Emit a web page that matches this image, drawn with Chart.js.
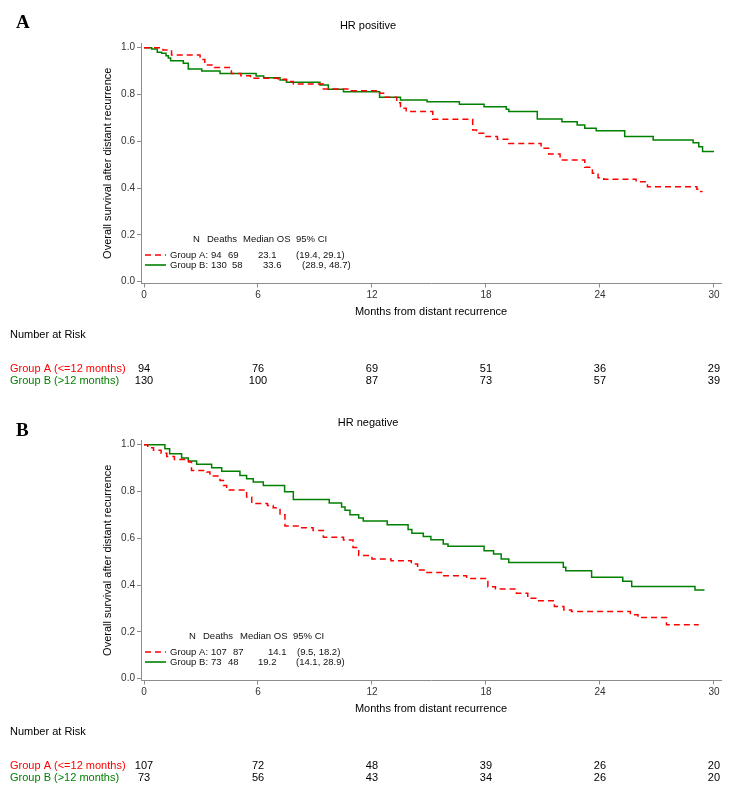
<!DOCTYPE html>
<html lang="en">
<head>
  <meta charset="UTF-8" />
  <title>Overall survival after distant recurrence</title>
  <script src="https://cdn.jsdelivr.net/npm/chart.js"></script>
  <style>
    body { margin: 0; background: #fff; }
    canvas.panel { position: absolute; left: 0; }
  </style>
</head>
<body>
  <canvas id="chartA" class="panel" width="736" height="397" style="top:0"></canvas>
  <canvas id="chartB" class="panel" width="736" height="400" style="top:397px"></canvas>

  <script>
    // shared axis ticks
    const xTicks = [0, 6, 12, 18, 24, 30];
    const yTicks = [0, 0.2, 0.4, 0.6, 0.8, 1.0];
    const groupNames = ['Group A (<=12 months)', 'Group B (>12 months)'];
    const statHeader = ['N', 'Deaths', 'Median OS', '95% CI'];

    // HR positive, Group A (step times in months / survival)
    const posATime = [0, 1.0, 1.45, 2.95, 3.2, 3.7, 4.6, 5.1, 5.6, 7.07, 7.5, 7.86, 9.44, 10.9, 12.4, 12.7, 13.3, 13.5, 13.8, 15.2, 17.3, 17.5, 18.0, 18.6, 19.2, 20.9, 21.3, 21.9, 23.2, 23.6, 23.9, 24.2, 25.9, 26.5, 29.1, 29.3, 29.4];
    const posASurv = [1.0, 0.99, 0.969, 0.95, 0.926, 0.915, 0.89, 0.88, 0.869, 0.865, 0.855, 0.845, 0.823, 0.816, 0.805, 0.788, 0.765, 0.741, 0.727, 0.694, 0.648, 0.634, 0.62, 0.609, 0.591, 0.57, 0.546, 0.52, 0.489, 0.463, 0.444, 0.438, 0.427, 0.406, 0.395, 0.385, 0.385];
    // HR positive, Group B
    const posBTime = [0, 0.4, 0.7, 0.93, 1.16, 1.28, 1.4, 2.07, 2.33, 3.04, 4.0, 5.9, 6.3, 7.16, 7.5, 9.26, 9.7, 10.5, 12.4, 13.5, 14.9, 16.6, 17.9, 19.07, 19.2, 20.7, 22.0, 22.8, 23.2, 23.8, 25.3, 26.8, 28.9, 29.2, 29.4, 30.0];
    const posBSurv = [1.0, 0.994, 0.98, 0.976, 0.966, 0.956, 0.944, 0.933, 0.909, 0.9, 0.89, 0.879, 0.872, 0.862, 0.852, 0.84, 0.822, 0.812, 0.788, 0.776, 0.769, 0.758, 0.748, 0.737, 0.727, 0.695, 0.684, 0.67, 0.656, 0.645, 0.62, 0.606, 0.594, 0.577, 0.556, 0.556];
    const posRiskA = [94, 76, 69, 51, 36, 29];
    const posRiskB = [130, 100, 87, 73, 57, 39];
    const posStatsA = ['94', '69', '23.1', '(19.4, 29.1)'];
    const posStatsB = ['130', '58', '33.6', '(28.9, 48.7)'];

    // HR negative, Group A
    const negATime = [0, 0.2, 0.5, 0.9, 1.2, 1.6, 2.35, 2.5, 3.3, 3.47, 4.0, 4.18, 4.35, 5.4, 5.67, 6.5, 6.8, 7.16, 7.42, 8.3, 8.9, 9.44, 10.5, 11.0, 11.3, 12.0, 13.0, 14.07, 14.4, 14.8, 15.7, 16.98, 18.1, 18.5, 19.6, 20.2, 20.7, 21.6, 22.1, 22.5, 25.6, 26.0, 27.5, 29.2];
    const negASurv = [1.0, 0.987, 0.976, 0.963, 0.95, 0.937, 0.926, 0.89, 0.883, 0.866, 0.847, 0.826, 0.806, 0.776, 0.749, 0.74, 0.73, 0.701, 0.653, 0.645, 0.633, 0.604, 0.593, 0.561, 0.526, 0.512, 0.504, 0.49, 0.465, 0.454, 0.44, 0.428, 0.393, 0.383, 0.365, 0.344, 0.333, 0.308, 0.294, 0.287, 0.273, 0.261, 0.23, 0.23];
    // HR negative, Group B
    const negBTime = [0, 1.1, 1.35, 1.98, 2.33, 2.77, 3.56, 4.09, 5.05, 5.4, 5.75, 6.28, 7.4, 7.86, 9.75, 10.4, 10.58, 10.84, 11.3, 11.54, 12.8, 13.9, 14.1, 14.7, 15.1, 15.75, 16.0, 17.9, 18.4, 18.8, 19.2, 22.07, 22.2, 23.56, 25.2, 25.67, 29.0, 29.5];
    const negBSurv = [1.0, 0.983, 0.961, 0.943, 0.93, 0.916, 0.901, 0.886, 0.868, 0.854, 0.84, 0.826, 0.799, 0.766, 0.751, 0.734, 0.72, 0.701, 0.687, 0.674, 0.658, 0.638, 0.622, 0.608, 0.594, 0.576, 0.566, 0.547, 0.533, 0.512, 0.497, 0.476, 0.461, 0.433, 0.416, 0.394, 0.379, 0.379];
    const negRiskA = [107, 72, 48, 39, 26, 20];
    const negRiskB = [73, 56, 43, 34, 26, 20];
    const negStatsA = ['107', '87', '14.1', '(9.5, 18.2)'];
    const negStatsB = ['73', '48', '19.2', '(14.1, 28.9)'];

    const RED = '#ff0000';
    const GREEN = '#008000';
    const AXIS = '#8c8c8c';
    const SANS = "'Liberation Sans', Arial, sans-serif";

    function toPoints(times, surv) {
      return times.map((t, i) => ({ x: t, y: surv[i] }));
    }

    // draws letter, titles, inset stats table and number-at-risk rows
    const annotations = {
      id: 'annotations',
      afterDraw(chart, args, opts) {
        const ctx = chart.ctx;
        const area = chart.chartArea;
        const xs = chart.scales.x;
        const midX = (area.left + area.right) / 2;
        ctx.save();
        ctx.textBaseline = 'middle';

        ctx.fillStyle = '#000';
        ctx.font = "bold 19px 'Liberation Serif', 'Times New Roman', serif";
        ctx.textAlign = 'left';
        ctx.fillText(opts.letter, 16, opts.letterY);

        ctx.font = '11px ' + SANS;
        ctx.textAlign = 'center';
        ctx.fillText(opts.title, chart.width / 2, 26);
        ctx.fillText('Months from distant recurrence', midX, area.bottom + 28);

        ctx.save();
        ctx.translate(108, (area.top + area.bottom) / 2);
        ctx.rotate(-Math.PI / 2);
        ctx.fillText('Overall survival after distant recurrence', 0, 0);
        ctx.restore();

        // inset stats table
        ctx.font = '9.5px ' + SANS;
        ctx.textAlign = 'left';
        ctx.fillStyle = '#111';
        statHeader.forEach((s, i) => ctx.fillText(s, opts.headX[i], 239));
        const rows = [opts.statsA, opts.statsB];
        const rowX = [opts.rowAX, opts.rowBX];
        const rowY = [255, 265];
        rows.forEach((row, r) => {
          const ds = chart.data.datasets[r];
          ctx.save();
          ctx.strokeStyle = ds.borderColor;
          ctx.lineWidth = 1.6;
          ctx.setLineDash(ds.borderDash || []);
          ctx.beginPath();
          ctx.moveTo(145, rowY[r]);
          ctx.lineTo(166, rowY[r]);
          ctx.stroke();
          ctx.restore();
          ctx.fillText(r === 0 ? 'Group A:' : 'Group B:', 170, rowY[r]);
          row.forEach((s, i) => ctx.fillText(s, rowX[r][i], rowY[r]));
        });

        // number at risk
        ctx.font = '11px ' + SANS;
        ctx.fillStyle = '#000';
        ctx.textAlign = 'left';
        ctx.fillText('Number at Risk', 10, area.bottom + 51.5);
        const risk = [opts.riskA, opts.riskB];
        const colors = [RED, GREEN];
        const ry = [area.bottom + 85.5, area.bottom + 97];
        risk.forEach((vals, r) => {
          ctx.fillStyle = colors[r];
          ctx.textAlign = 'left';
          ctx.fillText(groupNames[r], 10, ry[r]);
          ctx.fillStyle = '#000';
          ctx.textAlign = 'center';
          vals.forEach((v, i) => ctx.fillText(String(v), xs.getPixelForValue(xTicks[i]), ry[r]));
        });
        ctx.restore();
      }
    };

    function makeChart(id, panel) {
      const canvas = document.getElementById(id);
      const axisH = canvas.height - 283.5;
      return new Chart(canvas, {
        type: 'line',
        data: {
          datasets: [{
            label: 'Group A',
            data: toPoints(panel.aTime, panel.aSurv),
            borderColor: RED,
            borderWidth: 1.5,
            borderDash: [6, 4],
            stepped: true,
            pointRadius: 0,
            fill: false
          }, {
            label: 'Group B',
            data: toPoints(panel.bTime, panel.bSurv),
            borderColor: GREEN,
            borderWidth: 1.5,
            stepped: true,
            pointRadius: 0,
            fill: false
          }]
        },
        options: {
          responsive: false,
          animation: false,
          layout: { padding: { top: 43, right: 15, left: 0, bottom: 0 } },
          plugins: {
            legend: { display: false },
            tooltip: { enabled: false },
            annotations: panel.text
          },
          scales: {
            x: {
              type: 'linear',
              min: -0.158,
              max: 30.37,
              afterBuildTicks: s => { s.ticks = xTicks.map(v => ({ value: v })); },
              afterFit: s => { s.height = axisH; },
              ticks: { color: '#333', font: { size: 10, family: SANS }, padding: 2, maxRotation: 0 },
              grid: { drawOnChartArea: false, drawTicks: true, tickLength: 4, color: AXIS },
              border: { color: AXIS, width: 1 }
            },
            y: {
              type: 'linear',
              min: -0.0077,
              max: 1.020,
              afterBuildTicks: s => { s.ticks = yTicks.map(v => ({ value: v })); },
              afterFit: s => { s.width = 141; },
              ticks: { color: '#333', font: { size: 10, family: SANS }, padding: 2, callback: v => v.toFixed(1) },
              grid: { drawOnChartArea: false, drawTicks: true, tickLength: 4, color: AXIS },
              border: { color: AXIS, width: 1 }
            }
          }
        },
        plugins: [annotations]
      });
    }

    makeChart('chartA', {
      aTime: posATime, aSurv: posASurv, bTime: posBTime, bSurv: posBSurv,
      text: {
        letter: 'A', letterY: 23, title: 'HR positive',
        headX: [193, 207, 243, 296],
        rowAX: [211, 228, 258, 296],
        rowBX: [211, 232, 263, 302],
        statsA: posStatsA, statsB: posStatsB,
        riskA: posRiskA, riskB: posRiskB
      }
    });

    makeChart('chartB', {
      aTime: negATime, aSurv: negASurv, bTime: negBTime, bSurv: negBSurv,
      text: {
        letter: 'B', letterY: 34, title: 'HR negative',
        headX: [189, 203, 240, 293],
        rowAX: [211, 233, 268, 297],
        rowBX: [211, 228, 258, 296],
        statsA: negStatsA, statsB: negStatsB,
        riskA: negRiskA, riskB: negRiskB
      }
    });
  </script>
</body>
</html>
